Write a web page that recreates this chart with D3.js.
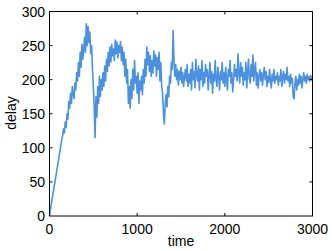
<!DOCTYPE html>
<html>
<head>
<meta charset="utf-8">
<script src="https://cdn.jsdelivr.net/npm/d3@7"></script>
<style>
  body { margin: 0; background: #fff; }
  text { font-family: "Liberation Sans", Arial, sans-serif; fill: #000; }
</style>
</head>
<body>
<svg id="chart" width="332" height="251"></svg>
<script>
// sample times (every 10 time units) and delay values
const times = d3.range(0, 3001, 10)
const delay = [
  0, 9, 17, 25, 33, 41, 49, 56, 64, 72, 80, 88, 96, 104, 112, 118, 128, 122, 138, 130,
  150, 142, 168, 158, 180, 165, 190, 178, 172, 195, 185, 210, 198, 225, 205, 240, 218, 252, 230, 245,
  262, 240, 282, 250, 278, 255, 270, 238, 250, 215, 190, 160, 115, 175, 145, 190, 165, 205, 175, 200,
  185, 210, 190, 220, 198, 230, 212, 240, 220, 248, 226, 252, 235, 245, 228, 258, 238, 255, 232, 250,
  240, 256, 228, 248, 222, 240, 205, 230, 195, 215, 165, 190, 158, 200, 172, 215, 185, 228, 195, 205,
  180, 210, 165, 198, 185, 205, 178, 215, 195, 230, 205, 248, 222, 240, 212, 235, 205, 228, 210, 242,
  220, 236, 205, 232, 215, 240, 198, 225, 190, 180, 150, 135, 165, 178, 160, 190, 175, 205, 195, 225,
  215, 272, 230, 205, 222, 200, 215, 192, 212, 200, 218, 195, 210, 190, 205, 215, 198, 222, 190, 208,
  195, 215, 185, 225, 200, 212, 188, 230, 205, 198, 220, 185, 215, 200, 228, 190, 210, 195, 222, 205,
  215, 185, 205, 225, 195, 212, 180, 208, 198, 228, 200, 190, 218, 205, 185, 212, 200, 225, 195, 210,
  190, 218, 200, 185, 215, 205, 228, 195, 210, 182, 200, 222, 205, 215, 198, 238, 210, 195, 225, 205,
  218, 192, 210, 200, 225, 188, 212, 230, 200, 195, 222, 205, 236, 198, 215, 225, 192, 210, 188, 205,
  215, 198, 210, 192, 208, 218, 200, 212, 190, 205, 196, 215, 200, 188, 208, 198, 215, 195, 205, 200,
  210, 192, 205, 198, 215, 190, 205, 212, 195, 208, 200, 218, 198, 205, 190, 208, 195, 202, 175, 172,
  195, 205, 185, 200, 192, 208, 195, 205, 188, 200, 210, 198, 205, 195, 208, 200, 204, 198, 206, 200,
  203
]
const xTicks = [0, 1000, 2000, 3000]
const yTicks = [0, 50, 100, 150, 200, 250, 300]

const data = times.map((t, i) => ({ t: t, v: delay[i] }))

const svg = d3.select("#chart")
const x = d3.scaleLinear().domain([0, 3000]).range([49.5, 312.5])
const y = d3.scaleLinear().domain([0, 300]).range([216, 11.5])

const line = d3.line().x(d => x(d.t)).y(d => y(d.v))
svg.append("path").datum(data).attr("d", line)
  .attr("fill", "none").attr("stroke", "#4a92df").attr("stroke-width", 1.6).attr("stroke-linejoin", "round")

// box
svg.append("rect").attr("x", x(0)).attr("y", y(300)).attr("width", x(3000) - x(0)).attr("height", y(0) - y(300))
  .attr("fill", "none").attr("stroke", "#000").attr("stroke-width", 1)

// ticks on all four sides, pointing in
const tk = 3
const ticks = svg.append("g").attr("stroke", "#000").attr("stroke-width", 1)
xTicks.slice(1, -1).forEach(t => {
  ticks.append("line").attr("x1", x(t)).attr("x2", x(t)).attr("y1", y(0)).attr("y2", y(0) - tk)
  ticks.append("line").attr("x1", x(t)).attr("x2", x(t)).attr("y1", y(300)).attr("y2", y(300) + tk)
})
yTicks.slice(1, -1).forEach(v => {
  ticks.append("line").attr("x1", x(0)).attr("x2", x(0) + tk).attr("y1", y(v)).attr("y2", y(v))
  ticks.append("line").attr("x1", x(3000)).attr("x2", x(3000) - tk).attr("y1", y(v)).attr("y2", y(v))
})

svg.selectAll(".xl").data(xTicks).join("text").attr("class", "xl")
  .attr("x", d => x(d)).attr("y", 234).attr("text-anchor", "middle").attr("font-size", 14).text(d => d)
svg.selectAll(".yl").data(yTicks).join("text").attr("class", "yl")
  .attr("x", 45).attr("y", d => y(d)).attr("dy", "0.36em").attr("text-anchor", "end").attr("font-size", 14).text(d => d)

svg.append("text").attr("x", 181).attr("y", 246).attr("text-anchor", "middle").attr("font-size", 14).text("time")
svg.append("text").attr("transform", "translate(16,113) rotate(-90)").attr("text-anchor", "middle").attr("font-size", 14).text("delay")
</script>
</body>
</html>
